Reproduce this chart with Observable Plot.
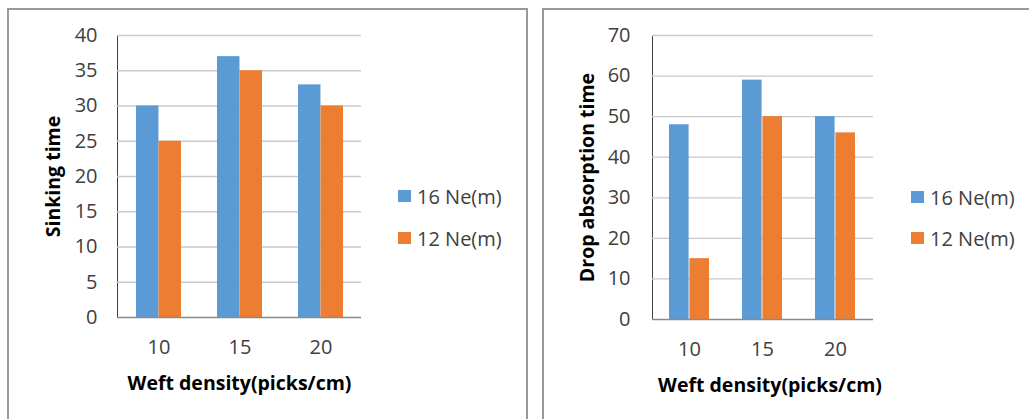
<!DOCTYPE html>
<html>
<head>
<meta charset="utf-8">
<script src="https://cdn.jsdelivr.net/npm/d3@7"></script>
<script src="https://cdn.jsdelivr.net/npm/@observablehq/plot@0.6"></script>
<style>
  html, body { margin: 0; padding: 0; background: #fff; width: 1029px; height: 419px; overflow: hidden; }
  .box { position: absolute; border: 2px solid #9a9a9a; box-sizing: border-box; background: #fff; }
  .chart { position: absolute; top: 0; }
  .legend { position: absolute; font-family: "Open Sans", sans-serif; font-size: 20px; color: #404040; }
  .legend .row { position: absolute; white-space: nowrap; display: flex; align-items: center; height: 22px; }
  .legend .sw { width: 13px; height: 12px; margin-right: 6px; display: inline-block; }
</style>
</head>
<body>
<div class="box" style="left:7px; top:8px; width:521px; height:500px;"></div>
<div class="box" style="left:542px; top:8px; width:600px; height:500px;"></div>
<div id="c1" class="chart" style="left:0px;"></div>
<div id="c2" class="chart" style="left:520px;"></div>
<div id="l1" class="legend"></div>
<div id="l2" class="legend"></div>
<script>
const categories = ["10", "15", "20"];
const series = ["16 Ne(m)", "12 Ne(m)"];
const colors = ["#5B9BD5", "#ED7D31"];
const sinking16 = [30, 37, 33];
const sinking12 = [25, 35, 30];
const drop16 = [48, 59, 50];
const drop12 = [15, 50, 46];
const sinkingTicks = [0, 5, 10, 15, 20, 25, 30, 35, 40];
const dropTicks = [0, 10, 20, 30, 40, 50, 60, 70];
const xTitle = "Weft density(picks/cm)";

function panel(opts) {
  const {a, b, ticks, yTitle, width, marginLeft, marginRight, marginBottom, tickPadY, yTitleDx, xTitleDx} = opts;
  const rowsA = categories.map((c, i) => ({cat: c, v: a[i], s: series[0]}));
  const rowsB = categories.map((c, i) => ({cat: c, v: b[i], s: series[1]}));
  const pIn = 0.446;
  const innerW = width - marginLeft - marginRight;
  const bw = innerW / categories.length * (1 - pIn);
  const svg = Plot.plot({
    width, height: 419,
    marginTop: 35, marginBottom, marginLeft, marginRight,
    style: {fontFamily: "Open Sans, sans-serif", fontSize: "20px", color: "#404040", background: "transparent", overflow: "visible"},
    x: {domain: categories, paddingInner: pIn, paddingOuter: pIn / 2, align: 0.5, label: null, tickSize: 0, tickPadding: 22},
    y: {domain: [ticks[0], ticks[ticks.length - 1]], ticks, label: null, tickSize: 0, tickPadding: tickPadY, line: true},
    color: {domain: series, range: colors},
    marks: [
      Plot.ruleY(ticks.slice(1), {stroke: "#c9c9c9", strokeWidth: 1.3}),
      Plot.barY(rowsA, {x: "cat", y: "v", fill: "s", insetRight: bw / 2}),
      Plot.barY(rowsB, {x: "cat", y: "v", fill: "s", insetLeft: bw / 2}),
      Plot.ruleY([0], {stroke: "#8a8a8a", strokeWidth: 1.5}),
      Plot.text([xTitle], {text: d => d, frameAnchor: "bottom", dy: 66, dx: xTitleDx, lineAnchor: "middle", textAnchor: "middle", fontWeight: "bold", fill: "#000", fontSize: 19.5}),
      Plot.text([yTitle], {text: d => d, frameAnchor: "left", rotate: -90, dx: yTitleDx, lineAnchor: "middle", textAnchor: "middle", fontWeight: "bold", fill: "#000", fontSize: 19.5})
    ]
  });
  d3.select(svg).selectAll("[aria-label='y-axis'] path, g[aria-label='y-axis'] .domain").attr("stroke", "#b0b0b0").attr("stroke-width", 1.5);
  return svg;
}

document.getElementById("c1").appendChild(panel({
  a: sinking16, b: sinking12, ticks: sinkingTicks, yTitle: "Sinking time",
  width: 520, marginLeft: 117, marginRight: 159, marginBottom: 102, tickPadY: 20, yTitleDx: -64, xTitleDx: 0
}));
document.getElementById("c2").appendChild(panel({
  a: drop16, b: drop12, ticks: dropTicks, yTitle: "Drop absorption time",
  width: 509, marginLeft: 132, marginRight: 156, marginBottom: 100, tickPadY: 22, yTitleDx: -65, xTitleDx: 7
}));

function legend(id, left, tops) {
  const el = document.getElementById(id);
  series.forEach((s, i) => {
    const row = document.createElement("div");
    row.className = "row";
    row.style.left = left + "px";
    row.style.top = (tops[i] - 11) + "px";
    const sw = document.createElement("span");
    sw.className = "sw";
    sw.style.background = colors[i];
    row.appendChild(sw);
    row.appendChild(document.createTextNode(s));
    el.appendChild(row);
  });
}
legend("l1", 398, [196, 238]);
legend("l2", 911, [197, 238]);
</script>
</body>
</html>
